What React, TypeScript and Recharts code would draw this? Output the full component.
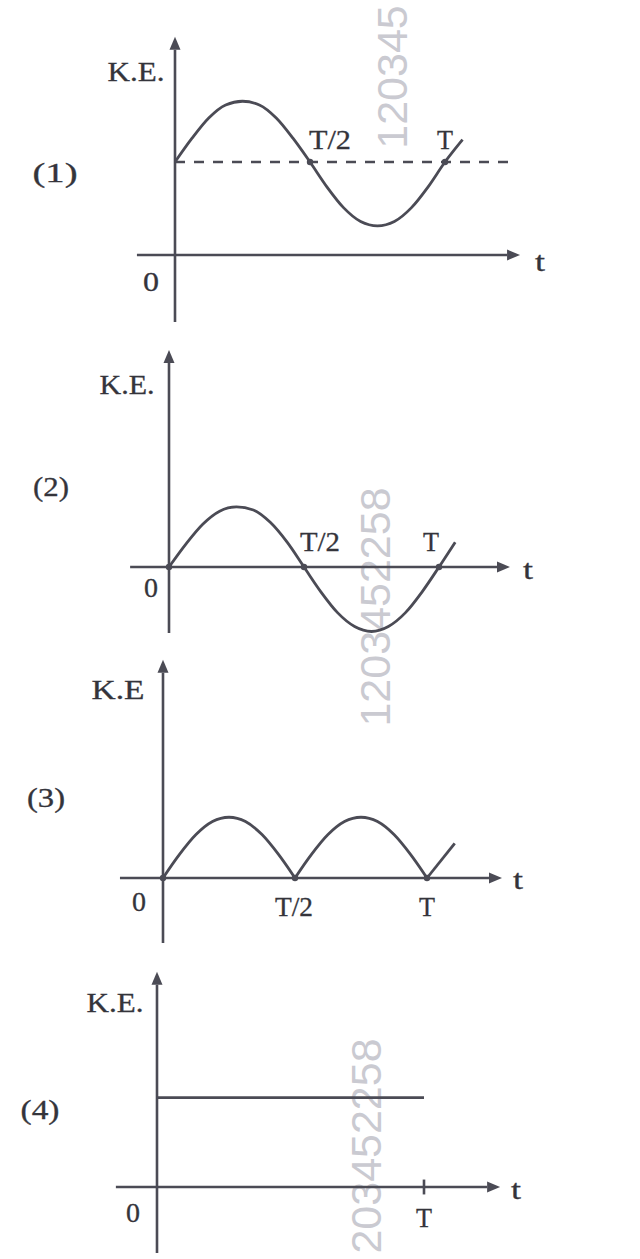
import React from "react"
import { LineChart, Line, XAxis, YAxis, ReferenceLine, ReferenceDot } from "recharts"

const INK = "#4b4b55"
const TEXT = "#34343b"
const MARK = "#cacad1"
const SERIF = "'Liberation Serif', 'DejaVu Serif', serif"

// time in units of T, sampled every T/16
const periodT = [0, 0.0625, 0.125, 0.1875, 0.25, 0.3125, 0.375, 0.4375, 0.5, 0.5625, 0.625, 0.6875, 0.75, 0.8125, 0.875, 0.9375, 1]
const halfT = [0, 0.0625, 0.125, 0.1875, 0.25, 0.3125, 0.375, 0.4375, 0.5]
const secondHalfT = [0.5, 0.5625, 0.625, 0.6875, 0.75, 0.8125, 0.875, 0.9375, 1]

// (1) K.E. oscillating about a constant level
const t1 = [...periodT, 1.065]
const ke1 = [1.5, 1.88, 2.21, 2.42, 2.48, 2.42, 2.21, 1.88, 1.5, 1.1, 0.76, 0.54, 0.47, 0.54, 0.76, 1.1, 1.5, 1.86]
const level1 = 1.5

// (2) K.E. swinging through zero
const t2 = [...periodT, 1.06]
const ke2 = [0, 0.37, 0.69, 0.9, 0.97, 0.92, 0.72, 0.4, 0, -0.4, -0.74, -0.96, -1.04, -0.96, -0.74, -0.4, 0, 0.4]

// (3) two humps touching zero at T/2 and T
const humpA = [0, 0.38, 0.7, 0.91, 0.98, 0.91, 0.7, 0.38, 0]
const humpB = [0, 0.38, 0.7, 0.91, 0.98, 0.91, 0.7, 0.38, 0]
const tailT3 = [1, 1.105]
const tailKE3 = [0, 0.56]

// (4) constant K.E.
const t4 = [0, 1]
const ke4 = [1.44, 1.44]

const rows = (ts: number[], ks: number[]) => ts.map((t, i) => ({ t, ke: ks[i] }))

// pixel frame of each small graph: origin, px per T and px per unit K.E.
const frames = [
  { top: 0, height: 330, x0: 175, y0: 255, pxT: 270, pxKE: 62, xEnd: 1.278, yLow: -1.08, yHigh: 3.52 },
  { top: 330, height: 320, x0: 169, y0: 567, pxT: 270, pxKE: 62, xEnd: 1.263, yLow: -1.065, yHigh: 3.5 },
  { top: 650, height: 300, x0: 163, y0: 878, pxT: 264, pxKE: 62, xEnd: 1.284, yLow: -1.05, yHigh: 3.52 },
  { top: 950, height: 309, x0: 157, y0: 1187, pxT: 267, pxKE: 62, xEnd: 1.285, yLow: -1.065, yHigh: 3.47 },
]
const xStart = [-0.141, -0.144, -0.163, -0.154]

const arrowShape = (p: any) => {
  const { x1, y1, x2, y2 } = p
  const a = Math.atan2(y2 - y1, x2 - x1)
  const len = 13
  const half = 5.5
  const bx = x2 - len * Math.cos(a)
  const by = y2 - len * Math.sin(a)
  const pts = [
    `${x2},${y2}`,
    `${bx - half * Math.sin(a)},${by + half * Math.cos(a)}`,
    `${bx + half * Math.sin(a)},${by - half * Math.cos(a)}`,
  ].join(" ")
  return (
    <g>
      <line x1={x1} y1={y1} x2={bx} y2={by} stroke={INK} strokeWidth={2.6} />
      <polygon points={pts} fill={INK} />
    </g>
  )
}

const tag = (text: string, dx: number, dy: number, w: number) => (p: any) => (
  <text
    x={p.cx + dx}
    y={p.cy + dy}
    fontSize={27}
    fontFamily={SERIF}
    fill={TEXT}
    stroke={TEXT}
    strokeWidth={0.3}
    textAnchor="middle"
    dominantBaseline="central"
    textLength={w}
    lengthAdjust="spacingAndGlyphs"
  >
    {text}
  </text>
)

const dotShape = (p: any) => <circle cx={p.cx} cy={p.cy} r={3.2} fill={INK} />

function axes(i: number) {
  const f = frames[i]
  return [
    <ReferenceLine key="xa" segment={[{ x: xStart[i], y: 0 }, { x: f.xEnd, y: 0 }]} shape={arrowShape} />,
    <ReferenceLine key="ya" segment={[{ x: 0, y: f.yLow }, { x: 0, y: f.yHigh }]} shape={arrowShape} />,
  ]
}

function Graph({ i, children }: { i: number; children: React.ReactNode }) {
  const f = frames[i]
  const xDomain = [-f.x0 / f.pxT, (640 - f.x0) / f.pxT]
  const yDomain = [-(f.top + f.height - f.y0) / f.pxKE, (f.y0 - f.top) / f.pxKE]
  return (
    <div style={{ position: "absolute", left: 0, top: f.top }}>
      <LineChart width={640} height={f.height} margin={{ top: 0, right: 0, bottom: 0, left: 0 }}>
        <XAxis type="number" dataKey="t" domain={xDomain} allowDataOverflow hide />
        <YAxis type="number" dataKey="ke" domain={yDomain} allowDataOverflow hide />
        {children}
      </LineChart>
    </div>
  )
}

const curve = { type: "monotone" as const, dataKey: "ke", stroke: INK, strokeWidth: 2.8, dot: false, activeDot: false, isAnimationActive: false }

// faint stamped serial number, read bottom to top
function Stamp({ x, y, text }: { x: number; y: number; text: string }) {
  return (
    <div
      style={{
        position: "absolute",
        left: x,
        top: y,
        transform: "translate(-50%, -50%) rotate(-90deg)",
        fontFamily: "'Liberation Sans', Arial, sans-serif",
        fontSize: 43,
        color: MARK,
        whiteSpace: "nowrap",
        lineHeight: 1,
      }}
    >
      {text}
    </div>
  )
}

export default function App() {
  return (
    <div style={{ position: "absolute", left: 0, top: 0, width: 640, height: 1259, overflow: "hidden", background: "#ffffff" }}>
      <Stamp x={392} y={77} text="120345" />
      <Stamp x={375} y={607} text="1203452258" />
      <Stamp x={366} y={1146} text="203452258" />

      <Graph i={0}>
        {axes(0)}
        <ReferenceLine segment={[{ x: 0, y: level1 }, { x: 1.24, y: level1 }]} stroke={INK} strokeWidth={2.4} strokeDasharray="10 9" />
        <Line {...curve} data={rows(t1, ke1)} />
        <ReferenceDot x={0.5} y={level1} shape={dotShape} />
        <ReferenceDot x={1} y={level1} shape={dotShape} />
        <ReferenceDot x={0} y={0} shape={tag("K.E.", -39, -183, 57)} />
        <ReferenceDot x={0} y={0} shape={tag("(1)", -120, -82, 45)} />
        <ReferenceDot x={0} y={0} shape={tag("0", -24, 27, 16)} />
        <ReferenceDot x={1.278} y={0} shape={tag("t", 20, 7, 10)} />
        <ReferenceDot x={0.5} y={level1} shape={tag("T/2", 20, -22, 42)} />
        <ReferenceDot x={1} y={level1} shape={tag("T", 0, -22, 16)} />
      </Graph>

      <Graph i={1}>
        {axes(1)}
        <Line {...curve} data={rows(t2, ke2)} />
        <ReferenceDot x={0} y={0} shape={dotShape} />
        <ReferenceDot x={0.5} y={0} shape={dotShape} />
        <ReferenceDot x={1} y={0} shape={dotShape} />
        <ReferenceDot x={0} y={0} shape={tag("K.E.", -42, -182, 55)} />
        <ReferenceDot x={0} y={0} shape={tag("(2)", -118, -80, 36)} />
        <ReferenceDot x={0} y={0} shape={tag("0", -18, 21, 14)} />
        <ReferenceDot x={1.263} y={0} shape={tag("t", 18, 3, 10)} />
        <ReferenceDot x={0.5} y={0} shape={tag("T/2", 16, -25, 40)} />
        <ReferenceDot x={1} y={0} shape={tag("T", -8, -25, 16)} />
      </Graph>

      <Graph i={2}>
        {axes(2)}
        <Line {...curve} data={rows(halfT, humpA)} />
        <Line {...curve} data={rows(secondHalfT, humpB)} />
        <Line {...curve} type="linear" data={rows(tailT3, tailKE3)} />
        <ReferenceDot x={0} y={0} shape={dotShape} />
        <ReferenceDot x={0.5} y={0} shape={dotShape} />
        <ReferenceDot x={1} y={0} shape={dotShape} />
        <ReferenceDot x={0} y={0} shape={tag("K.E", -45, -188, 53)} />
        <ReferenceDot x={0} y={0} shape={tag("(3)", -117, -80, 38)} />
        <ReferenceDot x={0} y={0} shape={tag("0", -24, 24, 14)} />
        <ReferenceDot x={1.284} y={0} shape={tag("t", 16, 2, 10)} />
        <ReferenceDot x={0.5} y={0} shape={tag("T/2", -1, 29, 38)} />
        <ReferenceDot x={1} y={0} shape={tag("T", 0, 29, 16)} />
      </Graph>

      <Graph i={3}>
        {axes(3)}
        <Line {...curve} type="linear" data={rows(t4, ke4)} />
        <ReferenceLine segment={[{ x: 1, y: -0.12 }, { x: 1, y: 0.12 }]} stroke={INK} strokeWidth={2.6} />
        <ReferenceDot x={0} y={0} shape={tag("K.E.", -42, -184, 57)} />
        <ReferenceDot x={0} y={0} shape={tag("(4)", -117, -77, 39)} />
        <ReferenceDot x={0} y={0} shape={tag("0", -24, 26, 14)} />
        <ReferenceDot x={1.285} y={0} shape={tag("t", 16, 3, 10)} />
        <ReferenceDot x={1} y={0} shape={tag("T", 0, 31, 16)} />
      </Graph>
    </div>
  )
}
